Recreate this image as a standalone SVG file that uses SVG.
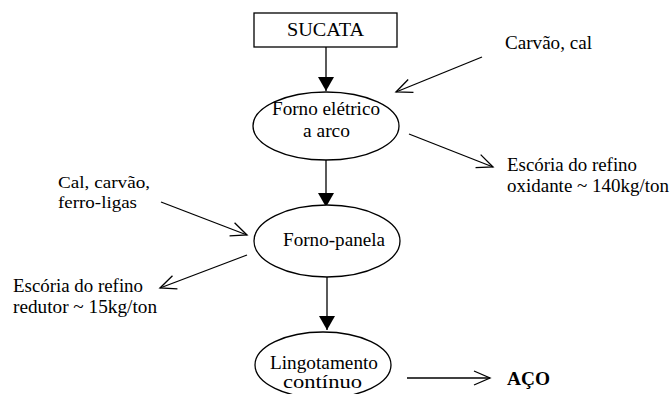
<svg xmlns="http://www.w3.org/2000/svg" width="672" height="394" viewBox="0 0 672 394">
<style>
text{font-family:'Liberation Serif','DejaVu Serif',serif;font-size:18px;fill:#000}
.b{font-weight:bold}
.small{font-size:17px}
.shape{fill:#fff;stroke:#000;stroke-width:1.3}
.c{stroke:#000;stroke-width:1.3;fill:none}
</style>
<defs>
<marker id="fill" markerUnits="userSpaceOnUse" markerWidth="16" markerHeight="16" viewBox="-14 -8 16 16" refX="0" refY="0" orient="auto">
<path d="M-14,-8 L0,0 L-14,8 Z" fill="#000"/>
</marker>
<marker id="open" markerUnits="userSpaceOnUse" markerWidth="20" markerHeight="20" viewBox="-18 -10 20 20" refX="0" refY="0" orient="auto">
<path d="M-16,-7 L0,0 L-16,7" fill="none" stroke="#000" stroke-width="1.3"/>
</marker>
</defs>
<rect width="672" height="394" fill="#fff"/>
<g id="connectors">
<line class="c" x1="326" y1="47" x2="326" y2="91" marker-end="url(#fill)"/>
<line class="c" x1="326" y1="160" x2="326" y2="207" marker-end="url(#fill)"/>
<line class="c" x1="327" y1="277" x2="327" y2="330" marker-end="url(#fill)"/>
<line class="c" x1="482" y1="57" x2="396" y2="92" marker-end="url(#open)"/>
<line class="c" x1="409" y1="134" x2="493" y2="167" marker-end="url(#open)"/>
<line class="c" x1="161" y1="202" x2="247" y2="235" marker-end="url(#open)"/>
<line class="c" x1="247" y1="255" x2="160" y2="288" marker-end="url(#open)"/>
<line class="c" x1="407" y1="378" x2="490" y2="378" marker-end="url(#open)"/>
</g>
<g id="sucata">
<rect class="shape" x="254" y="13" width="143" height="34"/>
<text x="325.5" y="36" text-anchor="middle" textLength="77" lengthAdjust="spacingAndGlyphs">SUCATA</text>
</g>
<g id="forno-eletrico">
<ellipse class="shape" cx="326" cy="126" rx="73" ry="34"/>
<text x="326" y="115" text-anchor="middle" textLength="108" lengthAdjust="spacingAndGlyphs">Forno elétrico</text>
<text x="326.5" y="137" text-anchor="middle" textLength="47" lengthAdjust="spacingAndGlyphs">a arco</text>
</g>
<g id="forno-panela">
<ellipse class="shape" cx="327" cy="241" rx="73" ry="36"/>
<text x="334" y="246" text-anchor="middle" textLength="102" lengthAdjust="spacingAndGlyphs">Forno-panela</text>
</g>
<g id="lingotamento">
<ellipse class="shape" cx="323" cy="365" rx="68" ry="33"/>
<text x="324" y="369" text-anchor="middle" textLength="108" lengthAdjust="spacingAndGlyphs">Lingotamento</text>
<text x="322.5" y="388" text-anchor="middle" textLength="79" lengthAdjust="spacingAndGlyphs">contínuo</text>
</g>
<g id="carvao-cal">
<text x="505" y="49" textLength="87" lengthAdjust="spacingAndGlyphs">Carvão, cal</text>
</g>
<g id="escoria-oxidante">
<text x="507" y="171" textLength="130" lengthAdjust="spacingAndGlyphs">Escória do refino</text>
<text x="507" y="192" textLength="162" lengthAdjust="spacingAndGlyphs">oxidante ~ 140kg/ton</text>
</g>
<g id="cal-carvao">
<text class="small" x="58" y="188" textLength="92" lengthAdjust="spacingAndGlyphs">Cal, carvão,</text>
<text class="small" x="58" y="208" textLength="79" lengthAdjust="spacingAndGlyphs">ferro-ligas</text>
</g>
<g id="escoria-redutor">
<text x="13" y="292" textLength="130" lengthAdjust="spacingAndGlyphs">Escória do refino</text>
<text x="13" y="313" textLength="144" lengthAdjust="spacingAndGlyphs">redutor ~ 15kg/ton</text>
</g>
<g id="aco">
<text class="b" x="507" y="385" textLength="43" lengthAdjust="spacingAndGlyphs">AÇO</text>
</g>
</svg>
